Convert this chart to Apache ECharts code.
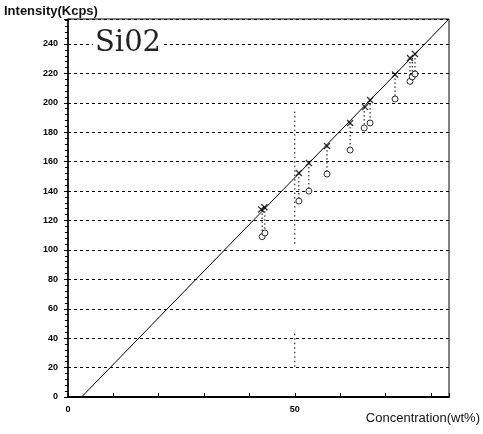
<!DOCTYPE html>
<html>
<head>
<meta charset="utf-8">
<script src="https://cdn.jsdelivr.net/npm/echarts@6/dist/echarts.min.js"></script>
<style>
  html, body { margin: 0; padding: 0; background: #fff; }
  #chart { width: 483px; height: 434px; }
</style>
</head>
<body>
<div id="chart"></div>
<script>
// measured intensities (crosses) and raw intensities (circles)
const crossX = [42.6, 43.3, 50.9, 53.1, 57.1, 62.2, 65.5, 66.6, 72.1, 75.4, 76.5]
const crossY = [127.5, 129, 152.3, 159.1, 170.6, 186.3, 197.1, 201.9, 219.3, 230.5, 233.2]
const circleX = [42.8, 43.4, 50.9, 53.1, 57.1, 62.2, 65.3, 66.6, 72.1, 75.4, 75.9, 76.5]
const circleY = [109, 111.5, 133.2, 140.0, 151.6, 167.9, 182.9, 186.3, 202.6, 214.6, 217.6, 219.6]
const fitLine = [[3, 0], [84, 257]]
const xLabelValues = [0, 50]
const guide50 = [[[50, 194], [50, 103]], [[50, 43], [50, 20]]]

const chart = echarts.init(document.getElementById('chart'))

const crossPath = 'path://M0,0L10,10M10,0L0,10'

// dotted drop line from each circle to the nearest cross
const dropSeries = circleX.map((cx, i) => {
  let best = 0
  crossX.forEach((x, j) => {
    if (Math.abs(x - cx) < Math.abs(crossX[best] - cx)) best = j
  })
  return {
    type: 'line',
    data: [[cx, crossY[best]], [cx, circleY[i]]],
    symbol: 'none',
    silent: true,
    lineStyle: { color: '#000', width: 1, type: [1.5, 2.5] },
    z: 1,
  }
})

const guideSeries = guide50.map(seg => ({
  type: 'line',
  data: seg,
  symbol: 'none',
  silent: true,
  lineStyle: { color: '#000', width: 1, type: [1.5, 3] },
  z: 1,
}))

const option = {
  backgroundColor: '#fff',
  animation: false,
  grid: {
    left: 68,
    right: 34,
    top: 19,
    bottom: 37,
    show: true,
    borderColor: '#000',
    borderWidth: 1,
  },
  xAxis: {
    type: 'value',
    min: 0,
    max: 84,
    interval: 10,
    axisLine: { show: true, onZero: false, lineStyle: { color: '#000', width: 2 } },
    axisTick: { show: true, inside: true, length: 4, lineStyle: { color: '#000' } },
    splitLine: { show: false },
    axisLabel: {
      color: '#000',
      fontSize: 9,
      fontWeight: 'bold',
      fontFamily: 'Liberation Sans',
      margin: 8,
      formatter: v => (xLabelValues.includes(v) ? String(v) : ''),
    },
  },
  yAxis: {
    type: 'value',
    min: 0,
    max: 257,
    interval: 20,
    axisLine: { show: true, lineStyle: { color: '#000', width: 1.5 } },
    axisTick: { show: true, length: 4, lineStyle: { color: '#000' } },
    minorTick: { show: true, splitNumber: 5, length: 3, lineStyle: { color: '#000' } },
    splitLine: {
      show: true,
      lineStyle: { color: '#000', width: 1, type: [3, 3] },
    },
    axisLabel: {
      color: '#000',
      fontSize: 9,
      fontWeight: 'bold',
      fontFamily: 'Liberation Sans',
      margin: 10,
      formatter: v => (v % 20 === 0 ? String(v) : ''),
    },
  },
  graphic: [
    {
      type: 'text',
      left: 4,
      top: 5,
      style: {
        text: 'Intensity(Kcps)',
        fontSize: 13,
        fontWeight: 'bold',
        fontFamily: 'Liberation Sans',
        fill: '#111',
      },
    },
    {
      type: 'text',
      right: 3,
      top: 412,
      style: {
        text: 'Concentration(wt%)',
        fontSize: 13,
        fontFamily: 'Liberation Sans',
        fill: '#111',
      },
    },
    {
      type: 'text',
      left: 93,
      top: 29,
      z: 10,
      style: {
        text: 'Si02',
        fontSize: 29,
        fontFamily: 'DejaVu Serif',
        fill: '#222',
        backgroundColor: '#fff',
        padding: [0, 2],
      },
    },
  ],
  series: [
    {
      type: 'line',
      data: fitLine,
      symbol: 'none',
      silent: true,
      lineStyle: { color: '#000', width: 1 },
      z: 2,
    },
    ...dropSeries,
    ...guideSeries,
    {
      type: 'scatter',
      data: circleX.map((x, i) => [x, circleY[i]]),
      symbol: 'circle',
      symbolSize: 6,
      itemStyle: { color: '#fff', borderColor: '#000', borderWidth: 1 },
      z: 3,
    },
    {
      type: 'scatter',
      data: crossX.map((x, i) => [x, crossY[i]]),
      symbol: crossPath,
      symbolSize: 6,
      itemStyle: { color: 'none', borderColor: '#000', borderWidth: 1.3 },
      z: 4,
    },
  ],
}

chart.setOption(option)
</script>
</body>
</html>
